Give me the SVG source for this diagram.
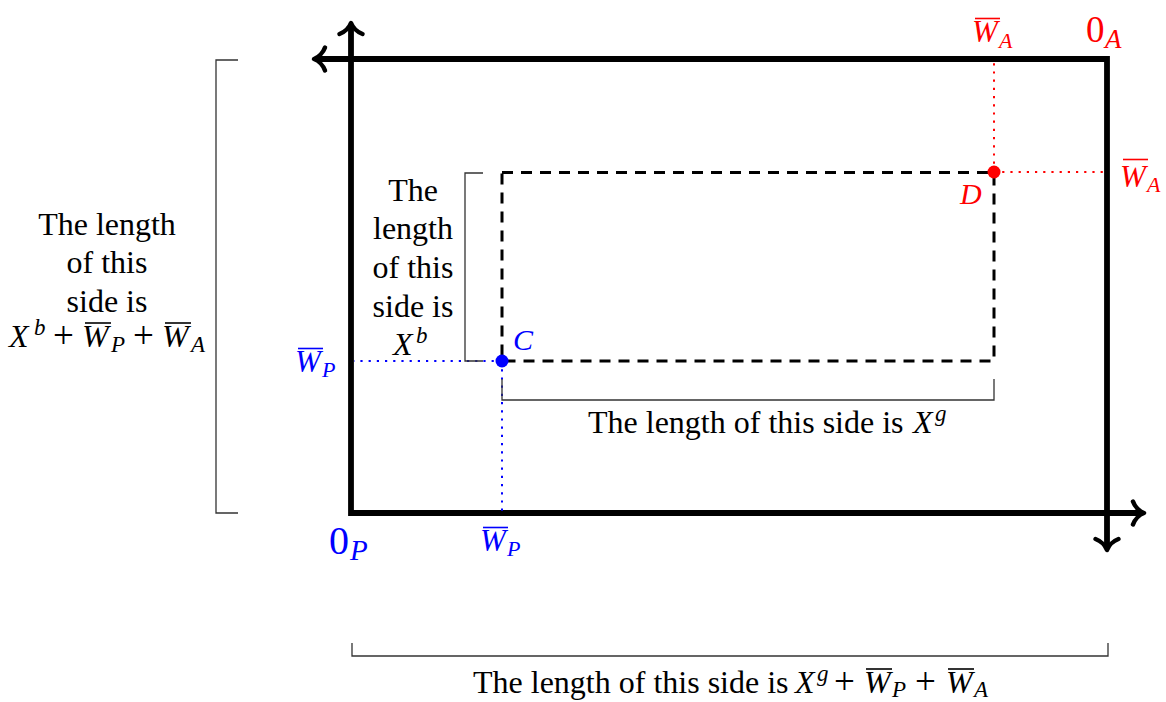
<svg xmlns="http://www.w3.org/2000/svg" width="1166" height="702" viewBox="0 0 1166 702">
<style>
svg{font-size:32px}
text{font-family:"Liberation Serif","Times New Roman",serif;fill:#000}
.it{font-style:italic}
.red{fill:#ff0000}
.blue{fill:#0000ff}
.axis{fill:none;stroke:#000;stroke-width:5.8;stroke-linejoin:miter;stroke-linecap:butt}
.head{fill:none;stroke:#000;stroke-width:4.5;stroke-linecap:round;stroke-linejoin:round}
.dash{fill:none;stroke:#000;stroke-width:3;stroke-dasharray:11 8}
.brk{fill:none;stroke:#333;stroke-width:1.3}
.rdot{fill:none;stroke:#ff0000;stroke-width:2;stroke-dasharray:2.2 6}
.bdot{fill:none;stroke:#0000ff;stroke-width:2;stroke-dasharray:2.2 6}
.ovr{stroke:#ff0000;stroke-width:1.6}
.ovb{stroke:#0000ff;stroke-width:1.6}
.ovk{stroke:#000;stroke-width:1.6}
.pl{font-size:37px}
</style>
<defs>
<path id="ah" class="head" d="M -11,-11.5 C -9,-6 -4,-1.5 0,0 C -4,1.5 -9,6 -11,11.5"/>
</defs>

<g id="frame">
<path class="axis" d="M 351,26 L 351,513 L 1141,513"/>
<path class="axis" d="M 317,59 L 1107,59 L 1107,547"/>
<use href="#ah" transform="translate(351,23) rotate(-90)"/>
<use href="#ah" transform="translate(314,59) rotate(180)"/>
<use href="#ah" transform="translate(1144,513)"/>
<use href="#ah" transform="translate(1107,550) rotate(90)"/>
</g>

<g id="inner-rect">
<rect class="dash" x="502" y="172.5" width="492" height="188.5"/>
</g>

<g id="connectors">
<path class="rdot" d="M 994,172 L 994,62"/>
<path class="rdot" d="M 994,172 L 1105,172"/>
<path class="bdot" d="M 502,361 L 354,361"/>
<path class="bdot" d="M 502,361 L 502,511"/>
<path class="brk" d="M 238,60 L 216,60 L 216,513 L 238,513"/>
<path class="brk" d="M 483,173 L 465,173 L 465,361 L 483,361"/>
<path class="brk" d="M 502,379 L 502,400 L 994,400 L 994,379"/>
<path class="brk" d="M 352,643 L 352,656 L 1108,656 L 1108,643"/>
</g>

<g id="point-C">
<circle cx="502" cy="361" r="6.5" fill="#0000ff"/>
<text class="it blue" x="513" y="350" font-size="30">C</text>
</g>

<g id="point-D">
<circle cx="994" cy="172" r="6.5" fill="#ff0000"/>
<text class="it red" x="960" y="204" font-size="30">D</text>
</g>

<g id="label-0A">
<text class="red" x="1086" y="42" font-size="37">0<tspan class="it" x="1105" y="48" font-size="27">A</tspan></text>
</g>

<g id="label-WA-top">
<line class="ovr" x1="975" y1="18.5" x2="1000" y2="18.5"/>
<text class="red it" x="972" y="42" font-size="31">W<tspan x="999" y="48" font-size="22">A</tspan></text>
</g>

<g id="label-WA-right">
<line class="ovr" x1="1123" y1="159.5" x2="1148" y2="159.5"/>
<text class="red it" x="1120" y="187" font-size="31">W<tspan x="1147" y="192" font-size="22">A</tspan></text>
</g>

<g id="label-0P">
<text class="blue" x="329" y="554" font-size="40">0<tspan class="it" x="350" y="560" font-size="29">P</tspan></text>
</g>

<g id="label-WP-left">
<line class="ovb" x1="298" y1="348.5" x2="323" y2="348.5"/>
<text class="blue it" x="295" y="372" font-size="31">W<tspan x="322" y="377" font-size="22">P</tspan></text>
</g>

<g id="label-WP-bottom">
<line class="ovb" x1="483" y1="527.5" x2="508" y2="527.5"/>
<text class="blue it" x="480" y="551" font-size="31">W<tspan x="507" y="556" font-size="22">P</tspan></text>
</g>

<g id="label-height-total">
<text x="107" y="235" text-anchor="middle">The length</text>
<text x="107" y="273" text-anchor="middle">of this</text>
<text x="107" y="312" text-anchor="middle">side is</text>
<line class="ovk" x1="85" y1="323" x2="111" y2="323"/>
<line class="ovk" x1="165" y1="323" x2="191" y2="323"/>
<text x="9" y="347"><tspan class="it">X</tspan><tspan class="it" x="34" y="335" font-size="23">b</tspan><tspan class="pl" x="53" y="348">+</tspan><tspan class="it" x="82" y="347">W</tspan><tspan class="it" x="111" y="352" font-size="23">P</tspan><tspan class="pl" x="133" y="348">+</tspan><tspan class="it" x="162" y="347">W</tspan><tspan class="it" x="191" y="352" font-size="23">A</tspan></text>
</g>

<g id="label-height-inner">
<text x="413" y="201" text-anchor="middle">The</text>
<text x="413" y="239" text-anchor="middle">length</text>
<text x="413" y="278" text-anchor="middle">of this</text>
<text x="413" y="317" text-anchor="middle">side is</text>
<text x="393" y="355"><tspan class="it">X</tspan><tspan class="it" x="416" y="343" font-size="23">b</tspan></text>
</g>

<g id="label-width-inner">
<text x="588" y="433">The length of this side is <tspan class="it" x="913">X</tspan><tspan class="it" x="935" y="421" font-size="23">g</tspan></text>
</g>

<g id="label-width-total">
<line class="ovk" x1="866" y1="669" x2="892" y2="669"/>
<line class="ovk" x1="948" y1="669" x2="974" y2="669"/>
<text x="473" y="693">The length of this side is <tspan class="it" x="795">X</tspan><tspan class="it" x="817" y="681" font-size="23">g</tspan><tspan class="pl" x="834" y="694">+</tspan><tspan class="it" x="864" y="693">W</tspan><tspan class="it" x="892" y="697" font-size="23">P</tspan><tspan class="pl" x="915" y="694">+</tspan><tspan class="it" x="946" y="693">W</tspan><tspan class="it" x="974" y="697" font-size="23">A</tspan></text>
</g>
</svg>
